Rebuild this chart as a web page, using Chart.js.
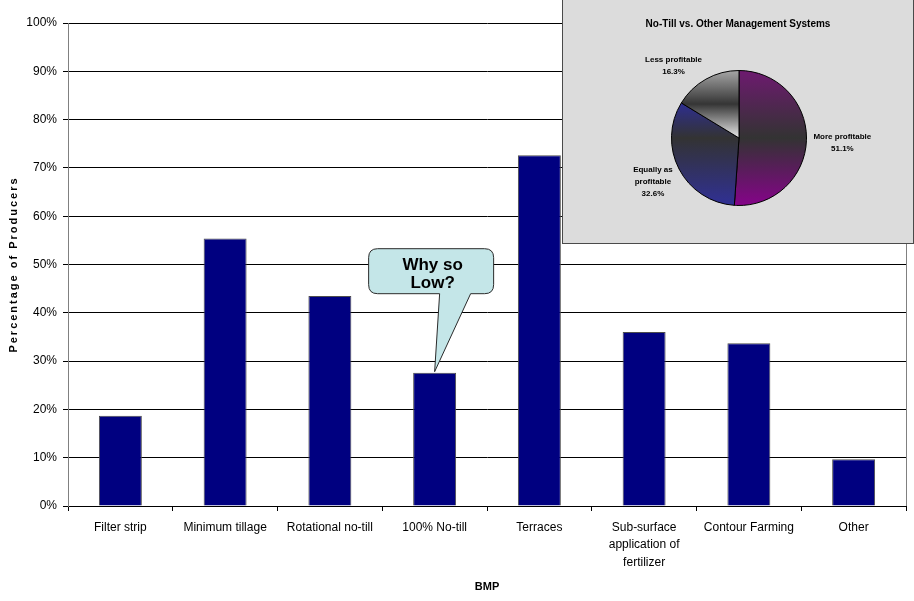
<!DOCTYPE html>
<html>
<head>
<meta charset="utf-8">
<script src="https://cdn.jsdelivr.net/npm/chart.js@4/dist/chart.umd.min.js"></script>
<style>
  html, body { margin: 0; padding: 0; background: #fff; }
  #wrap { position: relative; width: 914px; height: 601px; }
  #main { position: absolute; left: 0; top: 0; }
  #inset { position: absolute; left: 562px; top: -1px; width: 350px; height: 243px;
           background: #dcdcdc; border: 1px solid #4a4a4a; }
  #pie { position: absolute; left: 0; top: 0; }
</style>
</head>
<body>
<div id="wrap">
  <canvas id="main" width="914" height="601"></canvas>
  <div id="inset"><canvas id="pie" width="350" height="243"></canvas></div>
</div>
<script>
// ---- data ----
const categories = ['Filter strip', 'Minimum tillage', 'Rotational no-till', '100% No-till', 'Terraces',
  ['Sub-surface', 'application of', 'fertilizer'], 'Contour Farming', 'Other'];
const producerPct = [18.7, 55.4, 43.5, 27.6, 72.6, 36.0, 33.7, 9.7];
const yTickMax = 100;
const yTickStep = 10;
const xTitle = 'BMP';
const yTitle = 'Percentage of Producers';
const calloutText = ['Why so', 'Low?'];
const calloutIndex = 3;

const pieTitle = 'No-Till vs. Other Management Systems';
const pieLabels = [['More profitable'], ['Equally as', 'profitable'], ['Less profitable']];
const pieValues = [51.1, 32.6, 16.3];

const FONT = '"Liberation Sans", Arial, sans-serif';
Chart.defaults.font.family = FONT;
Chart.defaults.color = '#000';

// ---- main bar chart ----
const mainDecor = {
  id: 'mainDecor',
  afterDraw(chart) {
    const ctx = chart.ctx, a = chart.chartArea;
    ctx.save();
    // right border of plot area
    ctx.strokeStyle = '#808080';
    ctx.lineWidth = 1;
    ctx.beginPath();
    ctx.moveTo(Math.round(a.right) + 0.5, a.top);
    ctx.lineTo(Math.round(a.right) + 0.5, a.bottom);
    ctx.stroke();

    // axis titles
    ctx.fillStyle = '#000';
    ctx.font = 'bold 11px ' + FONT;
    ctx.textAlign = 'center';
    ctx.textBaseline = 'middle';
    ctx.fillText(xTitle, (a.left + a.right) / 2, 587);
    ctx.save();
    ctx.translate(14, (a.top + a.bottom) / 2);
    ctx.rotate(-Math.PI / 2);
    if ('letterSpacing' in ctx) ctx.letterSpacing = '2px';
    ctx.fillText(yTitle, 0, 0);
    ctx.restore();

    // callout pointing at a bar
    const bar = chart.getDatasetMeta(0).data[calloutIndex];
    const tx = bar.x, ty = bar.y;
    const L = tx - 66, R = tx + 59, T = ty - 124, B = ty - 79, r = 9;
    const b1 = tx + 5, b2 = tx + 36;
    ctx.beginPath();
    ctx.moveTo(L + r, T);
    ctx.lineTo(R - r, T);
    ctx.quadraticCurveTo(R, T, R, T + r);
    ctx.lineTo(R, B - r);
    ctx.quadraticCurveTo(R, B, R - r, B);
    ctx.lineTo(b2, B);
    ctx.lineTo(tx, ty - 1);
    ctx.lineTo(b1, B);
    ctx.lineTo(L + r, B);
    ctx.quadraticCurveTo(L, B, L, B - r);
    ctx.lineTo(L, T + r);
    ctx.quadraticCurveTo(L, T, L + r, T);
    ctx.closePath();
    ctx.fillStyle = '#c4e6e8';
    ctx.fill();
    ctx.strokeStyle = '#2a2a2a';
    ctx.lineWidth = 1;
    ctx.stroke();
    ctx.fillStyle = '#000';
    ctx.font = 'bold 17px ' + FONT;
    ctx.textAlign = 'center';
    ctx.textBaseline = 'middle';
    ctx.fillText(calloutText[0], tx - 2, T + 17);
    ctx.fillText(calloutText[1], tx - 2, T + 35);
    ctx.restore();
  }
};

new Chart(document.getElementById('main'), {
  type: 'bar',
  data: {
    labels: categories,
    datasets: [{
      data: producerPct,
      backgroundColor: '#000080',
      borderColor: '#4d4d4d',
      borderWidth: 1,
      barPercentage: 0.5,
      categoryPercentage: 0.82
    }]
  },
  options: {
    responsive: false,
    animation: false,
    layout: { padding: { top: 23, right: 8, left: 0, bottom: 0 } },
    plugins: { legend: { display: false }, tooltip: { enabled: false } },
    scales: {
      x: {
        afterFit(s) { s.height = 95; },
        grid: { drawOnChartArea: false, drawTicks: true, tickLength: 5, color: '#000', offset: true },
        border: { display: true, color: '#000' },
        ticks: { font: { size: 12, lineHeight: 1.45 }, color: '#000', padding: 8, maxRotation: 0, autoSkip: false }
      },
      y: {
        min: 0, max: yTickMax,
        afterFit(s) { s.width = 68; },
        grid: { color: '#000', tickLength: 5, drawTicks: true },
        border: { display: true, color: '#808080' },
        ticks: { stepSize: yTickStep, font: { size: 12 }, color: '#000', padding: 6,
                 callback: v => v + '%' }
      }
    }
  },
  plugins: [mainDecor]
});

// ---- inset pie ----
function sliceGradient(ctx, stops) {
  const chart = ctx.chart, a = chart.chartArea;
  if (!a) return stops[0][1];
  const g = chart.ctx.createLinearGradient(0, a.top, 0, a.bottom);
  stops.forEach(s => g.addColorStop(s[0], s[1]));
  return g;
}
const pieFills = [
  [[0, '#6e1a70'], [0.5, '#333333'], [1, '#86038a']],
  [[0, '#2e2e8e'], [0.25, '#2e2e8e'], [0.5, '#333333'], [1, '#303096']],
  [[0, '#a8a8a8'], [0.25, '#353535'], [0.5, '#e8e8e8'], [1, '#e8e8e8']]
];

const pieDecor = {
  id: 'pieDecor',
  afterDraw(chart) {
    const ctx = chart.ctx;
    ctx.save();
    ctx.fillStyle = '#000';
    ctx.textAlign = 'center';
    ctx.textBaseline = 'middle';
    ctx.font = 'bold 10px ' + FONT;
    ctx.fillText(pieTitle, chart.width / 2, 24);
    ctx.font = 'bold 8px ' + FONT;
    const meta = chart.getDatasetMeta(0);
    meta.data.forEach((arc, i) => {
      const mid = (arc.startAngle + arc.endAngle) / 2;
      const lines = pieLabels[i].concat([pieValues[i].toFixed(1) + '%']);
      const lh = 12;
      const w = Math.max(...lines.map(l => ctx.measureText(l).width));
      const h = lines.length * lh;
      const c = Math.cos(mid), s = Math.sin(mid);
      const px = arc.x + c * (arc.outerRadius + 6);
      const py = arc.y + s * (arc.outerRadius + 6);
      const cx = px + Math.sign(c) * (w / 2 + 1);
      const cy = py + s * h / 2 + 2;
      lines.forEach((l, k) => ctx.fillText(l, cx, cy - h / 2 + lh / 2 + k * lh));
    });
    ctx.restore();
  }
};

new Chart(document.getElementById('pie'), {
  type: 'pie',
  data: {
    labels: pieLabels.map(l => l.join(' ')),
    datasets: [{
      data: pieValues,
      backgroundColor: ctx => sliceGradient(ctx, pieFills[ctx.dataIndex]),
      borderColor: '#000',
      borderWidth: 1
    }]
  },
  options: {
    responsive: false,
    animation: false,
    layout: { padding: { left: 108, right: 106, top: 70, bottom: 37 } },
    plugins: { legend: { display: false }, tooltip: { enabled: false } }
  },
  plugins: [pieDecor]
});
</script>
</body>
</html>
